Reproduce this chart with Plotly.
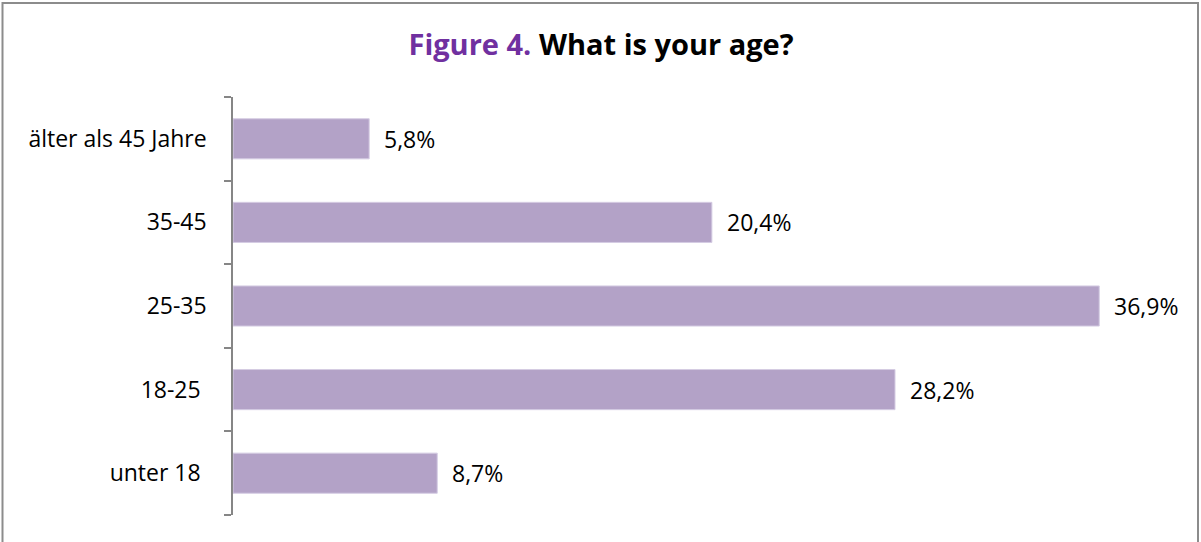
import plotly.graph_objects as go

categories = ["unter 18\u00a0", "18-25\u00a0", "25-35", "35-45", "älter als 45 Jahre"]
values = [8.7, 28.2, 36.9, 20.4, 5.8]
value_labels = ["8,7%", "28,2%", "36,9%", "20,4%", "5,8%"]

W, H = 1201, 542
L, R, T, B = 233, 29, 97, 27
pw, ph = W - L - R, H - T - B

fig = go.Figure()
fig.add_trace(go.Bar(
    x=values, y=categories, orientation="h",
    marker=dict(color="#B3A2C7", line=dict(color="#D5CCE3", width=1)),
    hoverinfo="skip",
))
for v, c, t in zip(values, categories, value_labels):
    fig.add_annotation(x=v, y=c, text=t, showarrow=False, xanchor="left",
                       xshift=13, font=dict(size=23, color="#000000"))

fig.update_layout(
    width=W, height=H,
    margin=dict(l=L, r=R, t=T, b=B),
    paper_bgcolor="white", plot_bgcolor="white",
    font=dict(family="Open Sans, sans-serif", size=23, color="#000000"),
    bargap=0.52,
    showlegend=False,
    title=dict(
        text="<b><span style='color:#7030A0'>Figure 4.</span> What is your age?</b>",
        x=601 / W, xref="container", xanchor="center", y=1 - 45 / H, yanchor="middle",
        font=dict(size=29, color="#000000", family="Open Sans, sans-serif"),
    ),
    xaxis=dict(range=[0, 40], visible=False, fixedrange=True),
    yaxis=dict(
        showline=True, linecolor="#868686", linewidth=1.5,
        ticks="outside", ticklen=7, tickcolor="#868686", tickwidth=1.5,
        tickson="boundaries", ticklabelstandoff=20,
        showgrid=False, zeroline=False,
        tickfont=dict(size=23, color="#000000"),
    ),
    shapes=[dict(type="rect", xref="paper", yref="paper",
                 x0=-(L - 2.5) / pw, x1=1 + (R - 3) / pw,
                 y0=-(B + 10) / ph, y1=1 + (T - 3) / ph,
                 line=dict(color="#8C8C8C", width=2), layer="below")],
)

fig.write_html("out.html")
